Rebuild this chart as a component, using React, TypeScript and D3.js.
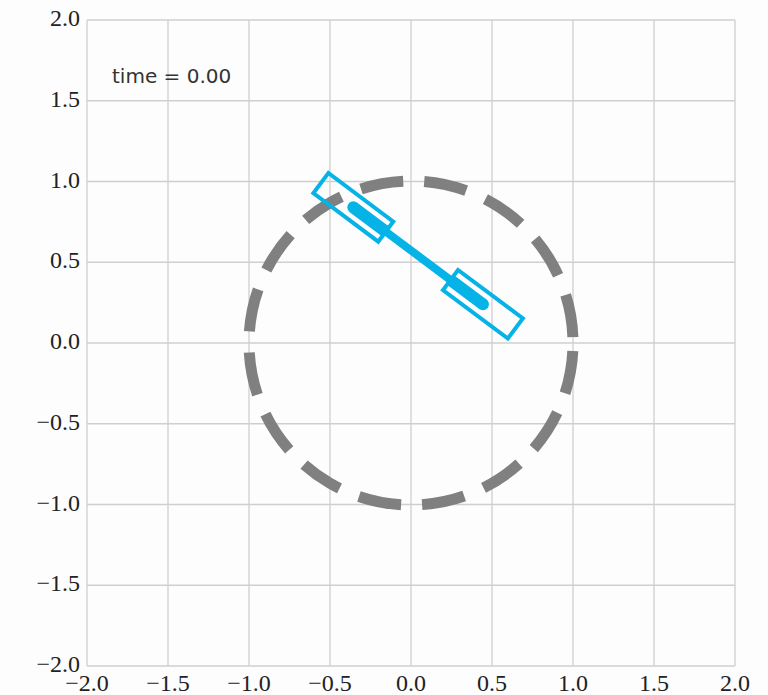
import * as d3 from 'd3';

// axis ticks and labels
const ticks = [-2, -1.5, -1, -0.5, 0, 0.5, 1, 1.5, 2];
const tickLabels = ['−2.0', '−1.5', '−1.0', '−0.5', '0.0', '0.5', '1.0', '1.5', '2.0'];

// constraint circle (dashed gray)
const circleCenter = [0, 0];
const circleRadius = 1;

// the two bodies joined by the rod
const bodyX = [-0.356, 0.444];
const bodyY = [0.84, 0.24];
const bodyLength = 0.5;
const bodyWidth = 0.155;

const timeLabel = 'time = 0.00';

const W = 768;
const H = 695;
const margin = { top: 20, right: 33, bottom: 29, left: 87 };

const BLUE = '#06b3e6';
const GRID = '#cfcfcf';

export default function App() {
  const x = d3.scaleLinear().domain([-2, 2]).range([margin.left, W - margin.right]);
  const y = d3.scaleLinear().domain([-2, 2]).range([H - margin.bottom, margin.top]);

  // circle drawn anticlockwise from 3 o'clock so the dashes start where they should
  const cx = x(circleCenter[0]);
  const cy = y(circleCenter[1]);
  const r = x(circleRadius) - x(0);
  const p = d3.path();
  p.moveTo(cx + r, cy);
  p.arc(cx, cy, r, 0, -2 * Math.PI + 0.0001, true);

  const pts = bodyX.map((bx, i) => [x(bx), y(bodyY[i])]);
  const dx = pts[1][0] - pts[0][0];
  const dy = pts[1][1] - pts[0][1];
  const len = Math.hypot(dx, dy);
  const ux = dx / len;
  const uy = dy / len;
  const angle = (Math.atan2(dy, dx) * 180) / Math.PI;
  const rw = x(bodyLength) - x(0);
  const rh = x(bodyWidth) - x(0);

  return (
    <svg width={W} height={H} style={{ position: 'absolute', left: 0, top: 0, background: '#fdfdfd' }}>
      <g>
        {ticks.map((t) => (
          <line key={'vx' + t} x1={x(t)} x2={x(t)} y1={y(-2)} y2={y(2)} stroke={GRID} strokeWidth={1.3} />
        ))}
        {ticks.map((t) => (
          <line key={'hy' + t} x1={x(-2)} x2={x(2)} y1={y(t)} y2={y(t)} stroke={GRID} strokeWidth={1.3} />
        ))}
      </g>
      <g fontFamily="'Liberation Serif', serif" fontSize={24} fill="#222">
        {ticks.map((t, i) => (
          <text key={'xl' + t} x={x(t)} y={H - margin.bottom + 17} textAnchor="middle" dominantBaseline="central">
            {tickLabels[i]}
          </text>
        ))}
        {ticks.map((t, i) => (
          <text key={'yl' + t} x={margin.left - 7} y={y(t) - 2} textAnchor="end" dominantBaseline="central">
            {tickLabels[i]}
          </text>
        ))}
      </g>
      <path d={p.toString()} fill="none" stroke="#808080" strokeWidth={11} strokeDasharray="43 21" strokeDashoffset={58} />
      <g>
        <line x1={pts[0][0]} y1={pts[0][1]} x2={pts[1][0]} y2={pts[1][1]} stroke={BLUE} strokeWidth={8} />
        {pts.map((pt, i) => {
          const s = i === 0 ? 1 : -1;
          const half = rw / 2;
          return (
            <g key={'b' + i}>
              <line
                x1={pt[0]}
                y1={pt[1]}
                x2={pt[0] + s * ux * half}
                y2={pt[1] + s * uy * half}
                stroke={BLUE}
                strokeWidth={12}
              />
              <circle cx={pt[0]} cy={pt[1]} r={6} fill={BLUE} />
              <rect
                x={-rw / 2}
                y={-rh / 2}
                width={rw}
                height={rh}
                fill="none"
                stroke={BLUE}
                strokeWidth={4}
                transform={`translate(${pt[0]},${pt[1]}) rotate(${angle})`}
              />
            </g>
          );
        })}
      </g>
      <text x={112} y={83} fontFamily="'DejaVu Sans', sans-serif" fontSize={20} fill="#333">
        {timeLabel}
      </text>
    </svg>
  );
}
